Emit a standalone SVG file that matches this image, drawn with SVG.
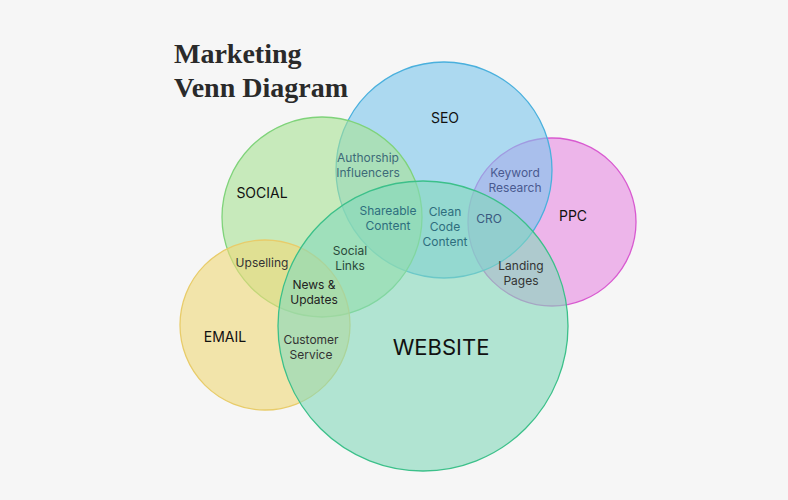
<svg xmlns="http://www.w3.org/2000/svg" width="788" height="500" viewBox="0 0 788 500">
<style>
.c{fill-opacity:0.6;stroke-width:1.3}
.t{font-family:Inter,"Liberation Sans",sans-serif;font-size:12px;text-anchor:middle}
.m{font-family:Inter,"Liberation Sans",sans-serif;font-size:14px;text-anchor:middle;fill:#111}
.title{font-family:"Liberation Serif",serif;font-weight:bold;font-size:28px;fill:#2a2a2a}
</style>
<rect width="788" height="500" fill="#f6f6f6"/>
<g id="title"><text class="title" x="174" y="63">Marketing</text><text class="title" x="174" y="97">Venn Diagram</text></g>
<g id="connectors"></g>
<g id="ppc"><circle class="c" cx="552" cy="222" r="84" fill="#e78ae3" stroke="#d85ad0"/></g>
<g id="seo"><circle class="c" cx="444" cy="170" r="108" fill="#7cc6ec" stroke="#4ab0dd"/></g>
<g id="social"><circle class="c" cx="322" cy="217" r="100" fill="#a8e394" stroke="#7fd37a"/></g>
<g id="email"><circle class="c" cx="265" cy="325" r="85" fill="#f0d978" stroke="#e8cc6a"/></g>
<g id="website"><circle class="c" cx="423" cy="326" r="145" fill="#84d8bb" stroke="#3cc08a"/></g>
<g id="labels">
<text class="m" x="445" y="123">SEO</text>
<text class="m" x="262" y="198">SOCIAL</text>
<text class="m" x="225" y="342">EMAIL</text>
<text class="m" x="573" y="221">PPC</text>
<text class="m" x="441" y="355" style="font-size:22px">WEBSITE</text>
<text class="t" fill="#3d6a78"><tspan x="368" y="162">Authorship</tspan><tspan x="368" y="177">Influencers</tspan></text>
<text class="t" fill="#2e6e7e"><tspan x="388" y="215">Shareable</tspan><tspan x="388" y="230">Content</tspan></text>
<text class="t" fill="#2e6e7e"><tspan x="445" y="216">Clean</tspan><tspan x="445" y="231">Code</tspan><tspan x="445" y="246">Content</tspan></text>
<text class="t" fill="#3a5a80" x="489" y="223">CRO</text>
<text class="t" fill="#4a5a90"><tspan x="515" y="177">Keyword</tspan><tspan x="515" y="192">Research</tspan></text>
<text class="t" fill="#333"><tspan x="521" y="270">Landing</tspan><tspan x="521" y="285">Pages</tspan></text>
<text class="t" fill="#2a4a3a"><tspan x="350" y="255">Social</tspan><tspan x="350" y="270">Links</tspan></text>
<text class="t" fill="#333" x="262" y="267">Upselling</text>
<text class="t" fill="#222"><tspan x="314" y="289">News &amp;</tspan><tspan x="314" y="304">Updates</tspan></text>
<text class="t" fill="#333"><tspan x="311" y="344">Customer</tspan><tspan x="311" y="359">Service</tspan></text>
</g>
</svg>
